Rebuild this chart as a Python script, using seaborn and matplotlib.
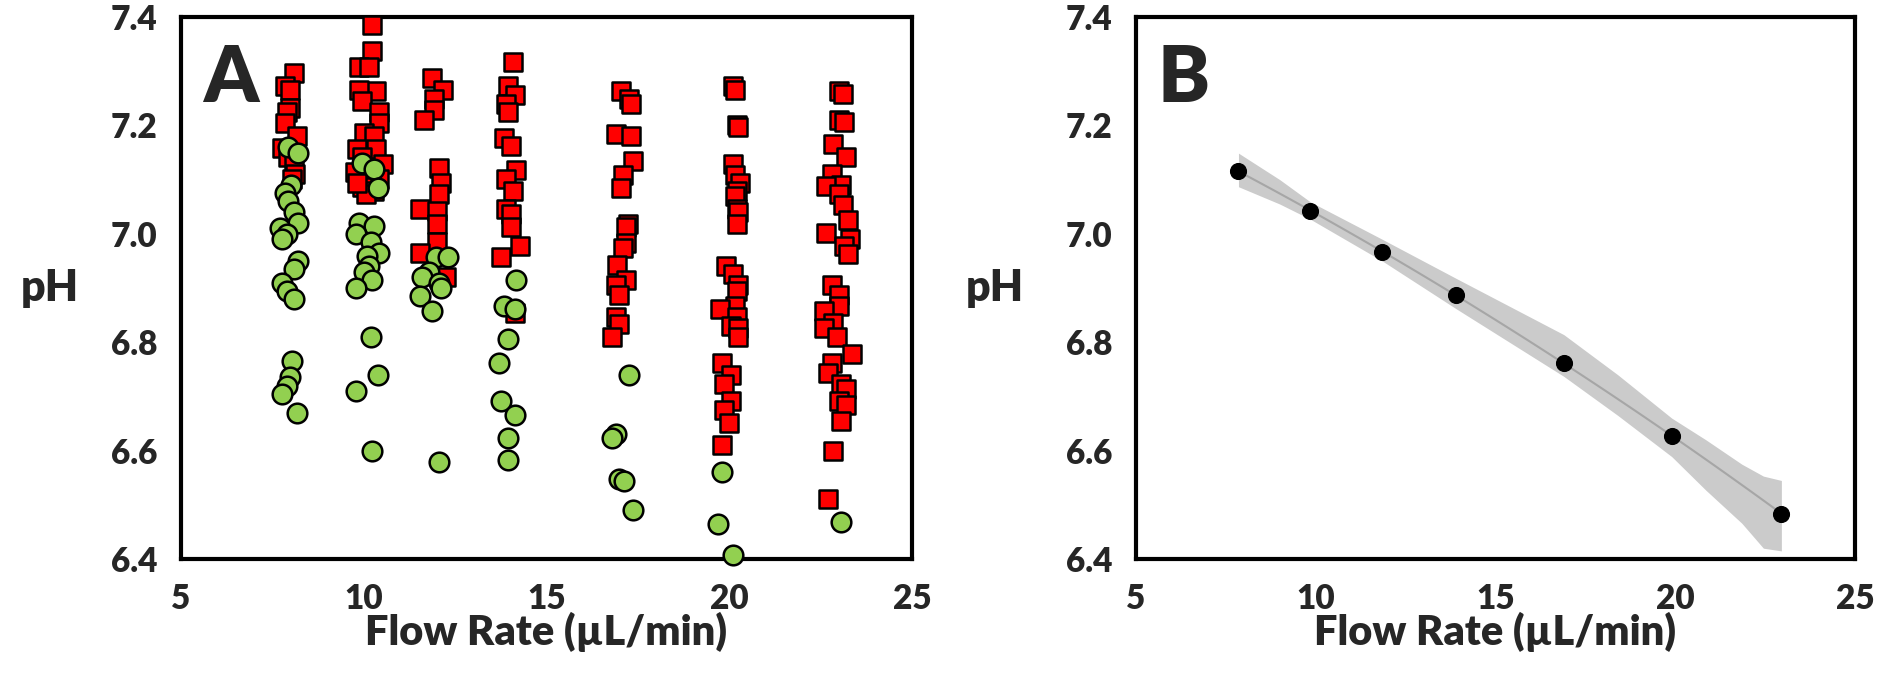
import numpy as np
import pandas as pd
import seaborn as sns
from matplotlib import pyplot as plt
from matplotlib.ticker import FormatStrFormatter

# ---- panel A : individual pH readings (red squares / green circles)
red_flow = [8.08, 7.84, 7.98, 7.98, 7.89, 7.84, 8.17, 7.75, 7.94, 8.08, 8.12, 8.03,
            10.23, 10.23, 9.86, 10.14, 10.33, 9.86, 9.95, 10.42, 10.42, 10.0, 10.28, 9.81,
            10.33, 9.95, 10.52, 9.77, 10.14, 10.42, 9.95, 10.28, 10.05, 9.81,
            11.88, 12.16, 11.92, 11.92, 11.64, 12.06, 12.11, 12.06, 11.55, 12.0, 12.0, 12.0,
            11.55, 12.25,
            14.08, 13.94, 14.13, 13.9, 13.94, 13.85, 14.03, 14.17, 13.9, 14.08, 13.9, 14.03,
            14.03, 14.27, 13.75, 14.13,
            17.04, 17.27, 17.32, 16.9, 17.32, 17.36, 17.08, 17.04, 17.22, 17.17, 17.17, 17.08,
            16.94, 17.17, 16.9, 16.99, 16.9, 16.99, 16.8,
            20.1, 20.15, 20.2, 20.25, 20.1, 20.15, 20.3, 20.2, 20.15, 20.2, 20.25, 20.2,
            19.9, 20.1, 20.25, 20.2, 20.15, 19.75, 20.2, 20.05, 20.25, 20.25, 19.8, 20.05,
            19.85, 20.05, 19.85, 20.0, 19.8,
            23.0, 23.1, 23.0, 23.15, 22.85, 23.2, 22.8, 23.05, 22.65, 23.0, 23.1, 23.25,
            22.65, 23.3, 23.15, 23.25, 22.8, 23.0, 23.0, 22.6, 22.85, 22.6, 22.95, 23.35,
            22.8, 22.7, 23.05, 23.2, 23.0, 23.2, 23.05, 22.85, 22.7]
red_ph = [7.297, 7.273, 7.266, 7.232, 7.225, 7.204, 7.18, 7.159, 7.142, 7.129, 7.111, 7.101,
          7.386, 7.338, 7.307, 7.307, 7.263, 7.266, 7.245, 7.225, 7.204, 7.187, 7.18, 7.156,
          7.156, 7.142, 7.129, 7.115, 7.108, 7.101, 7.087, 7.08, 7.074, 7.094,
          7.287, 7.266, 7.249, 7.228, 7.211, 7.122, 7.094, 7.074, 7.046, 7.043, 7.019, 6.985,
          6.964, 6.92,
          7.318, 7.273, 7.256, 7.239, 7.225, 7.177, 7.163, 7.118, 7.101, 7.08, 7.046, 7.036,
          7.012, 6.977, 6.957, 6.854,
          7.263, 7.249, 7.239, 7.184, 7.18, 7.135, 7.108, 7.084, 7.019, 7.012, 6.984, 6.974,
          6.943, 6.915, 6.905, 6.888, 6.847, 6.833, 6.809,
          7.273, 7.266, 7.2, 7.197, 7.129, 7.108, 7.094, 7.08, 7.07, 7.046, 7.04, 7.019,
          6.94, 6.926, 6.905, 6.895, 6.867, 6.861, 6.847, 6.83, 6.826, 6.809, 6.761, 6.74,
          6.723, 6.692, 6.675, 6.651, 6.61,
          7.263, 7.258, 7.21, 7.206, 7.166, 7.142, 7.111, 7.091, 7.088, 7.074, 7.053, 7.025,
          7.001, 6.991, 6.977, 6.963, 6.905, 6.888, 6.867, 6.857, 6.836, 6.826, 6.809, 6.778,
          6.761, 6.744, 6.723, 6.713, 6.692, 6.685, 6.654, 6.6, 6.51]

green_flow = [7.94, 8.2, 8.0, 7.84, 7.94, 8.08, 8.2, 7.7, 7.9, 7.75, 8.2, 8.08, 7.75, 7.9,
              8.08, 8.03, 7.98, 7.9, 7.75, 8.17,
              9.95, 10.28, 10.4, 9.86, 10.28, 9.8, 10.19, 10.42, 10.1, 10.14, 10.0, 10.23,
              9.8, 10.19, 10.38, 9.8, 10.23,
              11.97, 12.3, 11.78, 11.6, 12.06, 12.11, 11.55, 11.88, 12.06,
              14.17, 13.85, 14.13, 13.94, 13.7, 13.75, 14.13, 13.94, 13.94,
              17.27, 16.9, 16.8, 16.99, 17.13, 17.36,
              19.8, 19.7, 20.1,
              23.05]
green_ph = [7.16, 7.15, 7.09, 7.075, 7.06, 7.04, 7.02, 7.01, 7.0, 6.99, 6.95, 6.935, 6.91,
            6.895, 6.88, 6.765, 6.735, 6.72, 6.705, 6.67,
            7.13, 7.12, 7.085, 7.02, 7.015, 7.0, 6.985, 6.965, 6.96, 6.94, 6.93, 6.915,
            6.9, 6.81, 6.74, 6.71, 6.60,
            6.957, 6.957, 6.93, 6.92, 6.91, 6.90, 6.885, 6.857, 6.579,
            6.915, 6.867, 6.861, 6.806, 6.761, 6.692, 6.665, 6.623, 6.582,
            6.74, 6.63, 6.623, 6.548, 6.544, 6.49,
            6.561, 6.465, 6.407,
            6.469]

# ---- panel B : averaged pH vs flow rate and the shaded band
b_flow = [7.85, 9.85, 11.85, 13.9, 16.9, 19.9, 22.95]
b_ph = [7.116, 7.043, 6.966, 6.887, 6.762, 6.627, 6.484]
band_flow = [7.85, 9.0, 9.85, 11.85, 13.9, 16.9, 18.4, 19.9, 20.85, 21.85, 22.45, 22.95]
band_hi = [7.149, 7.100, 7.059, 6.990, 6.918, 6.814, 6.740, 6.660, 6.620, 6.575, 6.553, 6.545]
band_lo = [7.087, 7.055, 7.027, 6.950, 6.862, 6.737, 6.665, 6.589, 6.527, 6.466, 6.420, 6.415]

x_ticks = [5, 10, 15, 20, 25]
y_ticks = [6.4, 6.6, 6.8, 7.0, 7.2, 7.4]

sns.set_style("white")
plt.rcParams['font.family'] = ['Lato', 'DejaVu Sans']
plt.rcParams['font.weight'] = 'heavy'

fig = plt.figure(figsize=(18.78, 6.84), dpi=100)
ax1 = fig.add_axes([0.0964, 0.1827, 0.3892, 0.7923])
ax2 = fig.add_axes([0.6049, 0.1827, 0.3829, 0.7923])

sns.scatterplot(x=red_flow, y=red_ph, marker='s', color='#ff0000', edgecolor='black',
                linewidth=1.8, s=170, ax=ax1, zorder=3, clip_on=False)
sns.scatterplot(x=green_flow, y=green_ph, marker='o', color='#92d050', edgecolor='black',
                linewidth=1.8, s=200, ax=ax1, zorder=4, clip_on=False)

ax2.fill_between(band_flow, band_lo, band_hi, color='#cbcbcb', lw=0, zorder=1)
sns.regplot(x=b_flow, y=b_ph, order=2, ci=None, scatter=False, ax=ax2,
            line_kws=dict(color='#a6a6a6', lw=1.5, zorder=2))
sns.scatterplot(x=b_flow, y=b_ph, color='black', edgecolor='black', s=130, ax=ax2, zorder=3)

for ax, letter, ylab_x in [(ax1, 'A', -0.18), (ax2, 'B', -0.196)]:
    ax.set_xlim(5, 25)
    ax.set_ylim(6.4, 7.4)
    ax.set_xticks(x_ticks)
    ax.set_yticks(y_ticks)
    ax.yaxis.set_major_formatter(FormatStrFormatter('%.1f'))
    for sp in ax.spines.values():
        sp.set_linewidth(3)
        sp.set_color('black')
    ax.tick_params(direction='out', length=9, width=2.5, labelsize=24, pad=8, color='black')
    for lab in ax.get_xticklabels() + ax.get_yticklabels():
        lab.set_fontweight('heavy')
    ax.set_xlabel('Flow Rate (µL/min)', fontsize=30, fontweight='heavy', labelpad=-2)
    ax.set_ylabel('pH', fontsize=31, fontweight='heavy', rotation=0, va='center', ha='center')
    ax.yaxis.set_label_coords(ylab_x, 0.5)
    ax.text(0.03, 0.95, letter, transform=ax.transAxes, fontsize=56, fontweight='heavy',
            va='top', ha='left')

fig.savefig('out.png', dpi=100)
